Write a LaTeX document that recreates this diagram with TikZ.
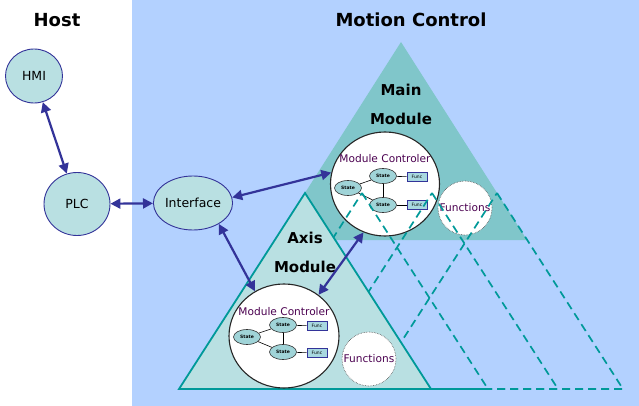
\documentclass[tikz,border=0pt]{standalone}
\usepackage{fontspec}
\setmainfont{DejaVu Sans}
\usetikzlibrary{shapes.geometric,arrows.meta}
\definecolor{bgblue}{HTML}{B3D1FF}
\definecolor{mainteal}{HTML}{80C6CA}
\definecolor{lightteal}{HTML}{B9E0E2}
\definecolor{tealline}{HTML}{009999}
\definecolor{navy}{HTML}{333399}
\definecolor{purpletext}{HTML}{4B0050}
\definecolor{statefill}{HTML}{A0D4D8}
\definecolor{funcfill}{HTML}{A8D8E0}
\begin{document}
\begin{tikzpicture}[x=1pt,y=-1pt,
  hostnode/.style={ellipse, draw=navy, line width=0.9pt, fill=lightteal, inner sep=0pt, font=\fontsize{12.5}{14}\selectfont},
  ctrl/.style={ellipse, draw=black!85, line width=1.1pt, fill=white, inner sep=0pt},
  funcs/.style={circle, draw=black!70, densely dotted, line width=0.6pt, fill=white, minimum size=54pt, inner sep=0pt, font=\fontsize{10.6}{12}\selectfont, text=purpletext},
  statenode/.style={ellipse, draw=black!80, line width=0.6pt, fill=statefill, minimum width=27pt, minimum height=15pt, inner sep=0pt, font=\fontsize{4.5}{5}\bfseries\selectfont},
  funcbox/.style={rectangle, draw=navy, line width=0.8pt, fill=funcfill, minimum width=20pt, minimum height=9pt, inner sep=0pt, font=\fontsize{4.5}{5}\selectfont},
  link/.style={draw=black, line width=0.6pt},
  arr/.style={navy, line width=2.2pt, {Triangle[length=10pt,width=10pt]}-{Triangle[length=10pt,width=10pt]}},
  dashtri/.style={draw=tealline, line width=1.7pt, dash pattern=on 8pt off 5pt},
  title/.style={font=\fontsize{18}{20}\bfseries\selectfont},
  modtitle/.style={font=\fontsize{15}{29}\bfseries\selectfont, align=center},
  ctrllabel/.style={font=\fontsize{10.6}{12}\selectfont, text=purpletext}
]
\useasboundingbox (0,0) rectangle (639,406);
\fill[white] (0,0) rectangle (639,406);
\fill[bgblue] (132,0) rectangle (639,406);

% main module triangle
\fill[mainteal] (401,42) -- (527,240) -- (275,240) -- cycle;
\node[modtitle] (mmtitle) at (401,104.5) {Main\\Module};

% main module controller
\node[ctrl, minimum width=109pt, minimum height=104pt] (mctrl) at (385,184) {};
\node[ctrllabel] (mctext) at (385,159) {Module Controler};
\node[statenode] (ms1) at (348,188) {State};
\node[statenode] (ms2) at (383,176) {State};
\node[statenode] (ms3) at (383,205) {State};
\node[funcbox] (mf1) at (417,177) {Func};
\node[funcbox] (mf2) at (417,205) {Func};
\draw[link] (ms1) -- (ms2);
\draw[link] (ms1) -- (ms3);
\draw[link] (ms2) -- (ms3);
\draw[link] (ms2) -- (mf1);
\draw[link] (ms3) -- (mf2);
\node[funcs] (mfun) at (465,208) {Functions};

% dashed stacked axis triangles
\draw[dashtri] (362,193) -- (488,389) -- (236,389) -- cycle;
\draw[dashtri] (432,193) -- (558,389) -- (306,389) -- cycle;
\draw[dashtri] (497,193) -- (623,389) -- (371,389) -- cycle;

% axis module triangle
\draw[fill=lightteal, draw=tealline, line width=1.8pt] (305,193) -- (431,389) -- (179,389) -- cycle;
\node[modtitle] (amtitle) at (305,252.5) {Axis\\Module};

% axis module controller
\node[ctrl, minimum width=110pt, minimum height=104pt] (actrl) at (284,336) {};
\node[ctrllabel] (actext) at (284,312) {Module Controler};
\node[statenode] (as1) at (247,337) {State};
\node[statenode] (as2) at (283,325) {State};
\node[statenode] (as3) at (283,352) {State};
\node[funcbox] (af1) at (317,326) {Func};
\node[funcbox] (af2) at (317,353) {Func};
\draw[link] (as1) -- (as2);
\draw[link] (as1) -- (as3);
\draw[link] (as2) -- (as3);
\draw[link] (as2) -- (af1);
\draw[link] (as3) -- (af2);
\node[funcs] (afun) at (369,359) {Functions};

% host nodes
\node[hostnode, minimum width=57pt, minimum height=54pt] (hmi) at (34,76) {HMI};
\node[hostnode, minimum width=66pt, minimum height=63pt] (plc) at (77,204) {PLC};
\node[hostnode, minimum width=78pt, minimum height=54pt] (iface) at (193,203) {Interface};

% arrows
\draw[arr] (hmi) -- (plc);
\draw[arr] (plc) -- (iface);
\draw[arr] (iface.8) -- (mctrl.168);
\draw[arr] (iface.-39) -- (actrl.123);
\draw[arr] (mctrl.246) -- (actrl.50);

% titles
\node[title] (host) at (57,20) {Host};
\node[title] (motion) at (411,20) {Motion Control};
\end{tikzpicture}
\end{document}
